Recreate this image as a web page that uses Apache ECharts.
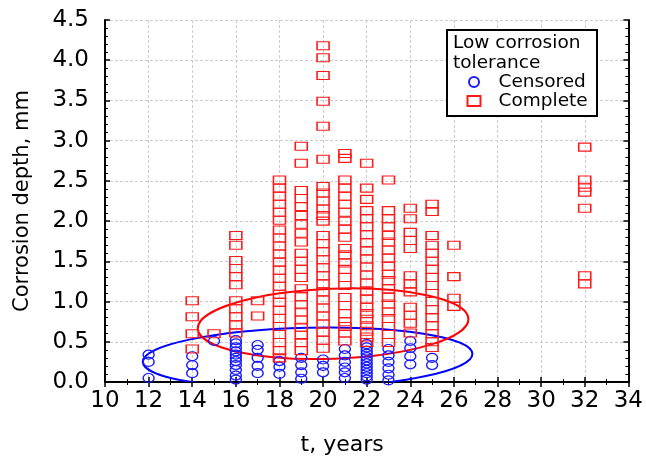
<!DOCTYPE html>
<html>
<head>
<meta charset="utf-8">
<script src="https://cdn.jsdelivr.net/npm/echarts@6/dist/echarts.min.js"></script>
<style>
  html, body { margin: 0; padding: 0; background: #ffffff; }
  #chart { width: 646px; height: 461px; }
</style>
</head>
<body>
<div id="chart"></div>
<script>
// Censored observations: [t, years ; corrosion depth, mm]
const censored = [
  [12, 0.34], [12, 0.25], [12, 0.05],
  [14, 0.32], [14, 0.21], [14, 0.11],
  [15, 0.51],
  [16, 0.52], [16, 0.48], [16, 0.43], [16, 0.38], [16, 0.34], [16, 0.30],
  [16, 0.26], [16, 0.21], [16, 0.15], [16, 0.08], [16, 0.03],
  [17, 0.46], [17, 0.40], [17, 0.30], [17, 0.20], [17, 0.11],
  [18, 0.26], [18, 0.19], [18, 0.10],
  [19, 0.30], [19, 0.21], [19, 0.12], [19, 0.04],
  [20, 0.28], [20, 0.20], [20, 0.12],
  [21, 0.41], [21, 0.33], [21, 0.25], [21, 0.18], [21, 0.12], [21, 0.05],
  [22, 0.47], [22, 0.43], [22, 0.39], [22, 0.35], [22, 0.31], [22, 0.27],
  [22, 0.23], [22, 0.19], [22, 0.15], [22, 0.11], [22, 0.07], [22, 0.03],
  [23, 0.41], [23, 0.33], [23, 0.25], [23, 0.17], [23, 0.09], [23, 0.02],
  [24, 0.51], [24, 0.42], [24, 0.32], [24, 0.22],
  [25, 0.30], [25, 0.21]
];

// Complete observations: [t, years ; corrosion depth, mm]
const complete = [
  [14, 1.01], [14, 0.81], [14, 0.60], [14, 0.41],
  [15, 0.60],
  [16, 1.82], [16, 1.70], [16, 1.51], [16, 1.41], [16, 1.31], [16, 1.21],
  [16, 1.01], [16, 0.91], [16, 0.81], [16, 0.71], [16, 0.61],
  [17, 1.01], [17, 0.82],
  [18, 2.51], [18, 2.41], [18, 2.31], [18, 2.21], [18, 2.11], [18, 2.01],
  [18, 1.89], [18, 1.79], [18, 1.69], [18, 1.59], [18, 1.49], [18, 1.39],
  [18, 1.29], [18, 1.19], [18, 1.09], [18, 0.99], [18, 0.89], [18, 0.79],
  [18, 0.69], [18, 0.59], [18, 0.49], [18, 0.39], [18, 0.30],
  [19, 2.93], [19, 2.72], [19, 2.38], [19, 2.28], [19, 2.18], [19, 2.07],
  [19, 1.96], [19, 1.85], [19, 1.74], [19, 1.60], [19, 1.50], [19, 1.40],
  [19, 1.30], [19, 1.16], [19, 1.06], [19, 0.96], [19, 0.87], [19, 0.77],
  [19, 0.68], [19, 0.58], [19, 0.49], [19, 0.39],
  [20, 4.18], [20, 4.03], [20, 3.81], [20, 3.49], [20, 3.18], [20, 2.77],
  [20, 2.43], [20, 2.35], [20, 2.25], [20, 2.15], [20, 2.07], [20, 2.00],
  [20, 1.82], [20, 1.72], [20, 1.62], [20, 1.52], [20, 1.42], [20, 1.32],
  [20, 1.22], [20, 1.12], [20, 1.02], [20, 0.92], [20, 0.82], [20, 0.72],
  [20, 0.62], [20, 0.52], [20, 0.42],
  [21, 2.84], [21, 2.78], [21, 2.51], [21, 2.41], [21, 2.31], [21, 2.21],
  [21, 2.11], [21, 2.00], [21, 1.90], [21, 1.80], [21, 1.66], [21, 1.58],
  [21, 1.48], [21, 1.40], [21, 1.30], [21, 1.20], [21, 1.05], [21, 0.95],
  [21, 0.85], [21, 0.75], [21, 0.69], [21, 0.61], [21, 0.51],
  [22, 2.72], [22, 2.41], [22, 2.27], [22, 2.13], [22, 2.03], [22, 1.93],
  [22, 1.83], [22, 1.73], [22, 1.63], [22, 1.53], [22, 1.43], [22, 1.33],
  [22, 1.23], [22, 1.13], [22, 1.03], [22, 0.93], [22, 0.85], [22, 0.78],
  [22, 0.70], [22, 0.63], [22, 0.56], [22, 0.49],
  [23, 2.51], [23, 2.13], [23, 2.03], [23, 1.93], [23, 1.82], [23, 1.74],
  [23, 1.64], [23, 1.54], [23, 1.44], [23, 1.34], [23, 1.26], [23, 1.16],
  [23, 1.05], [23, 0.97], [23, 0.87], [23, 0.79], [23, 0.69], [23, 0.59],
  [23, 0.49],
  [24, 2.16], [24, 2.03], [24, 1.86], [24, 1.76], [24, 1.66], [24, 1.32],
  [24, 1.22], [24, 1.12], [24, 0.93], [24, 0.83], [24, 0.73], [24, 0.61],
  [25, 2.21], [25, 2.12], [25, 1.82], [25, 1.70], [25, 1.60], [25, 1.50],
  [25, 1.40], [25, 1.30], [25, 1.20], [25, 1.10], [25, 1.00], [25, 0.90],
  [25, 0.80], [25, 0.70], [25, 0.60], [25, 0.50], [25, 0.43],
  [26, 1.70], [26, 1.31], [26, 1.04], [26, 0.94],
  [32, 2.92], [32, 2.51], [32, 2.42], [32, 2.36], [32, 2.16], [32, 1.32], [32, 1.22]
];

// Dispersion ellipses: [centre t, centre depth, half-width (years), half-height (mm), tilt (deg)]
const censoredEllipse = [19.29, 0.30, 7.56, 0.375, 1.4];
const completeEllipse = [20.46, 0.725, 6.21, 0.435, 2.1];

const legendTitle = 'Low corrosion\ntolerance';
const seriesNames = ['Censored', 'Complete'];

const FONT = '"DejaVu Sans", Verdana, sans-serif';
const RED = '#ff1a1a';
const BLUE = '#1a1aff';

function ellipseSeries(params5, color) {
  return {
    type: 'custom',
    silent: true,
    z: 3,
    data: [params5],
    renderItem(params, api) {
      const centre = [api.value(0), api.value(1)];
      const c = api.coord(centre);
      const s = api.size([api.value(2), api.value(3)], centre);
      const cs = params.coordSys;
      return {
        type: 'group',
        clipPath: { type: 'rect', shape: { x: cs.x, y: cs.y, width: cs.width, height: cs.height } },
        children: [{
          type: 'ellipse',
          x: c[0], y: c[1],
          rotation: api.value(4) * Math.PI / 180,
          shape: { cx: 0, cy: 0, rx: s[0], ry: s[1] },
          style: { fill: 'none', stroke: color, lineWidth: 2 }
        }]
      };
    }
  };
}

const axisLine = { show: true, lineStyle: { color: '#000', width: 2 } };
const tickIn = { show: true, inside: true, length: 5, lineStyle: { color: '#000', width: 1.5 } };
const minorIn = { show: true, splitNumber: 2, length: 3, lineStyle: { color: '#000', width: 1 } };
const gridDash = { show: true, lineStyle: { color: '#cccccc', type: [3, 2], width: 1 } };

const chart = echarts.init(document.getElementById('chart'), null, { renderer: 'canvas' });

chart.setOption({
  backgroundColor: '#ffffff',
  animation: false,
  grid: { left: 105, right: 15, top: 20, bottom: 71, containLabel: false },
  title: {
    text: legendTitle,
    left: 453, top: 33, padding: 0,
    textStyle: { fontFamily: FONT, fontSize: 18.5, fontWeight: 'normal', color: '#000', lineHeight: 20 },
    z: 8
  },
  legend: {
    data: seriesNames,
    orient: 'vertical',
    left: 466.5, top: 72.5, padding: 0,
    itemWidth: 13, itemHeight: 10, itemGap: 0,
    textStyle: { fontFamily: FONT, fontSize: 18.5, color: '#000', padding: [0, 0, 0, 13] },
    selectedMode: false,
    z: 8
  },
  graphic: [{
    type: 'rect',
    left: 446, top: 29,
    shape: { width: 150, height: 86 },
    style: { fill: '#ffffff', stroke: '#000', lineWidth: 2 },
    z: 5
  }],
  xAxis: [{
    type: 'value', position: 'bottom', min: 10, max: 34, interval: 2,
    name: 't, years', nameLocation: 'middle', nameGap: 52,
    nameTextStyle: { fontFamily: FONT, fontSize: 22, color: '#000', padding: [0, 49, 0, 0] },
    axisLine, axisTick: tickIn, minorTick: minorIn, splitLine: gridDash,
    axisLabel: { fontFamily: FONT, fontSize: 23, color: '#000', margin: 8 }
  }, {
    type: 'value', position: 'top', min: 10, max: 34, interval: 2,
    axisLine: { show: true, lineStyle: { color: '#000', width: 1.5 } },
    axisTick: tickIn, minorTick: minorIn, splitLine: { show: false },
    axisLabel: { show: false }
  }],
  yAxis: [{
    type: 'value', position: 'left', min: 0, max: 4.5, interval: 0.5,
    name: 'Corrosion depth, mm', nameLocation: 'middle', nameGap: 72, nameRotate: 90,
    nameTextStyle: { fontFamily: FONT, fontSize: 21, color: '#000' },
    axisLine, axisTick: tickIn,
    minorTick: Object.assign({}, minorIn, { splitNumber: 5 }),
    splitLine: gridDash,
    axisLabel: { fontFamily: FONT, fontSize: 23, color: '#000', margin: 16, formatter: v => v.toFixed(1) }
  }, {
    type: 'value', position: 'right', min: 0, max: 4.5, interval: 0.5,
    axisLine, axisTick: tickIn,
    minorTick: Object.assign({}, minorIn, { splitNumber: 5 }),
    splitLine: { show: false }, axisLabel: { show: false }
  }],
  series: [
    {
      name: 'Censored', type: 'scatter', data: censored,
      symbol: 'circle', symbolSize: [11, 9], z: 4,
      itemStyle: { color: 'rgba(255,255,255,0)', borderColor: BLUE, borderWidth: 1.3, opacity: 1 }
    },
    {
      name: 'Complete', type: 'scatter', data: complete,
      symbol: 'rect', symbolSize: [12, 8], z: 4,
      itemStyle: { color: 'rgba(255,255,255,0)', borderColor: RED, borderWidth: 1.3, opacity: 1 }
    },
    ellipseSeries(censoredEllipse, '#0000ff'),
    ellipseSeries(completeEllipse, '#ff0000')
  ]
});
</script>
</body>
</html>
